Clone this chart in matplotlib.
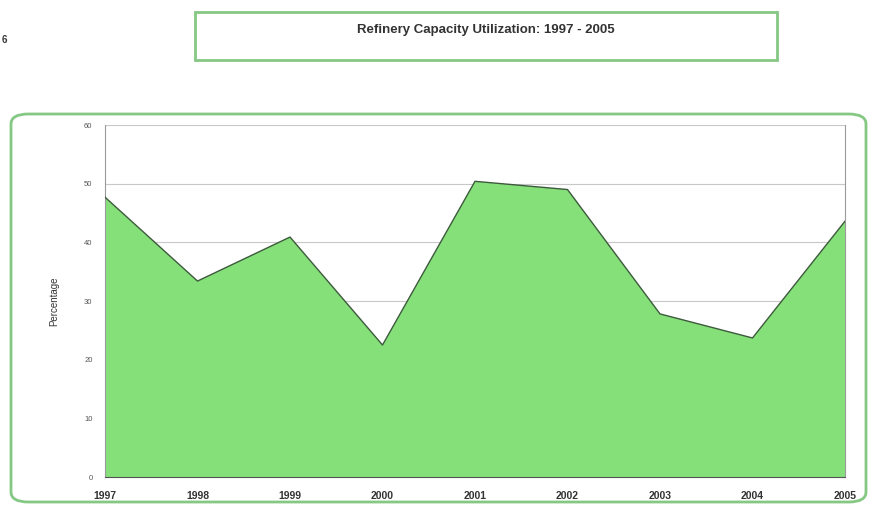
import matplotlib
matplotlib.use("Agg")
import matplotlib.pyplot as plt
from matplotlib.patches import FancyBboxPatch, Rectangle

years = ["1997", "1998", "1999", "2000", "2001", "2002", "2003", "2004", "2005"]
utilization = [47.7, 33.4, 40.9, 22.5, 50.4, 49.0, 27.8, 23.7, 43.6]
y_ticks = [0, 10, 20, 30, 40, 50, 60]

plt.rcParams['font.family'] = ['Liberation Sans', 'DejaVu Sans']

W, H = 869, 505
fig = plt.figure(figsize=(W / 100, H / 100), dpi=100)
fig.patch.set_facecolor("white")

green_edge = "#84c884"

# Title box
fig.patches.append(Rectangle((195 / W, 1 - 60 / H), (777 - 195) / W, (60 - 12) / H,
                             transform=fig.transFigure, fill=False,
                             edgecolor=green_edge, linewidth=2))
fig.text(486 / W, 1 - 30 / H, "Refinery Capacity Utilization: 1997 - 2005",
         ha="center", va="center", fontsize=9.5, fontweight="bold", color="#333333")
fig.text(2 / W, 1 - 40 / H, "6", ha="left", va="center", fontsize=7,
         fontweight="bold", color="#333333")

# Outer rounded box
fig.patches.append(FancyBboxPatch((11 / W, 3 / H), (866 - 11) / W, (505 - 113 - 4) / H,
                                  boxstyle="round,pad=0,rounding_size=0.02",
                                  transform=fig.transFigure, fill=False,
                                  edgecolor=green_edge, linewidth=2))

ax = fig.add_axes([105 / W, (505 - 477) / H, (845 - 105) / W, (477 - 125) / H])
x = list(range(len(years)))
ax.fill_between(x, utilization, 0, facecolor="#86e07a", edgecolor="none", zorder=2)
ax.plot(x, utilization, color="#3d5a3d", linewidth=1.0, zorder=3)
ax.set_xlim(0, len(years) - 1)
ax.set_ylim(0, 60)
ax.set_yticks(y_ticks)
ax.set_yticklabels([str(v) for v in y_ticks], fontsize=5.5, color="#555555")
ax.set_xticks(x)
ax.set_xticklabels(years, fontsize=7.5, fontweight="bold", color="#333333")
ax.tick_params(axis="both", length=0)
ax.tick_params(axis="x", pad=10)
ax.tick_params(axis="y", pad=9)
ax.grid(axis="y", color="#c8c8c8", linewidth=0.8, zorder=1)
ax.set_axisbelow(True)
ax.spines["top"].set_visible(False)
for side in ["left", "bottom", "right"]:
    ax.spines[side].set_color("#9a9a9a")
    ax.spines[side].set_linewidth(0.8)
ax.spines["bottom"].set_color("#555555")
ax.set_ylabel("Percentage", fontsize=7, color="#333333", labelpad=18)

fig.savefig("out.png", dpi=100)
